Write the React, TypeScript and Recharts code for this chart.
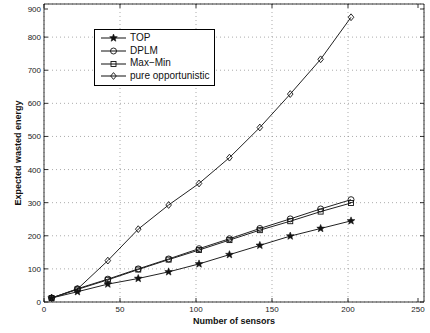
import React from "react";
import {
  LineChart,
  Line,
  XAxis,
  YAxis,
  CartesianGrid,
  ReferenceLine,
  Legend,
} from "recharts";

const sensors = [5, 22, 42, 62, 82, 102, 122, 142, 162, 182, 202];
const topVals = [12, 31, 54, 71, 91, 115, 143, 171, 199, 222, 245];
const dplmVals = [12, 40, 69, 100, 130, 161, 191, 222, 251, 281, 309];
const maxMinVals = [12, 38, 67, 98, 128, 157, 187, 217, 244, 273, 299];
const pureVals = [12, 39, 125, 220, 293, 358, 436, 527, 628, 733, 860];

const xTicks = [0, 50, 100, 150, 200, 250];
const yTicks = [0, 100, 200, 300, 400, 500, 600, 700, 800, 900];

const data = sensors.map((s, i) => ({
  n: s,
  top: topVals[i],
  dplm: dplmVals[i],
  maxMin: maxMinVals[i],
  pure: pureVals[i],
}));

const FONT = "'Liberation Sans', Arial, Helvetica, sans-serif";
const PLOT_TOP = 4;
const PLOT_RIGHT = 424;

const starPath = (cx: number, cy: number, ro: number, ri: number) => {
  let d = "";
  for (let k = 0; k < 10; k++) {
    const r = k % 2 === 0 ? ro : ri;
    const a = -Math.PI / 2 + (k * Math.PI) / 5;
    d += (k === 0 ? "M" : "L") + (cx + r * Math.cos(a)).toFixed(2) + "," + (cy + r * Math.sin(a)).toFixed(2);
  }
  return d + "Z";
};

const Marker = ({ kind, cx, cy }: { kind: string; cx: number; cy: number }) => {
  if (kind === "star")
    return <path d={starPath(cx, cy, 4, 1.7)} fill="#111" stroke="#111" strokeWidth={0.6} />;
  if (kind === "circle")
    return <circle cx={cx} cy={cy} r={3} fill="none" stroke="#111" strokeWidth={0.9} />;
  if (kind === "square")
    return <rect x={cx - 2.5} y={cy - 2.5} width={5} height={5} fill="none" stroke="#111" strokeWidth={0.9} />;
  return (
    <path
      d={`M${cx},${cy - 3.4}L${cx + 2.8},${cy}L${cx},${cy + 3.4}L${cx - 2.8},${cy}Z`}
      fill="none"
      stroke="#111"
      strokeWidth={0.9}
    />
  );
};

const series = [
  { key: "top", name: "TOP", kind: "star" },
  { key: "dplm", name: "DPLM", kind: "circle" },
  { key: "maxMin", name: "Max\u2212Min", kind: "square" },
  { key: "pure", name: "pure opportunistic", kind: "diamond" },
];

const XTick = ({ x, y, payload }: any) => (
  <g>
    <line x1={x} x2={x} y1={y} y2={y - 4} stroke="#000" strokeWidth={0.8} />
    <line x1={x} x2={x} y1={PLOT_TOP} y2={PLOT_TOP + 4} stroke="#000" strokeWidth={0.8} />
    <text x={x} y={y + 10} textAnchor="middle" fontSize={8} fontFamily={FONT} fill="#222">
      {payload.value}
    </text>
  </g>
);

const YTick = ({ x, y, payload }: any) => (
  <g>
    <line x1={x} x2={x + 4} y1={y} y2={y} stroke="#000" strokeWidth={0.8} />
    <line x1={PLOT_RIGHT} x2={PLOT_RIGHT - 4} y1={y} y2={y} stroke="#000" strokeWidth={0.8} />
    <text x={x - 3} y={y + 3} textAnchor="end" fontSize={8} fontFamily={FONT} fill="#222">
      {payload.value}
    </text>
  </g>
);

const LegendBox = () => (
  <div
    style={{
      border: "1px solid #000",
      background: "#fff",
      padding: "2px 4px 2px 5px",
      fontFamily: FONT,
      fontSize: 10,
      color: "#111",
      lineHeight: "12.7px",
    }}
  >
    {series.map((s) => (
      <div key={s.key} style={{ display: "flex", alignItems: "center", whiteSpace: "nowrap" }}>
        <svg width={28} height={12} style={{ marginRight: 2 }}>
          <line x1={1} x2={26} y1={6} y2={6} stroke="#111" strokeWidth={1} />
          <Marker kind={s.kind} cx={13.5} cy={6} />
        </svg>
        <span>{s.name}</span>
      </div>
    ))}
  </div>
);

export default function App() {
  return (
    <div style={{ position: "absolute", left: 0, top: 0, background: "#fff" }}>
      <LineChart
        width={430}
        height={333}
        data={data}
        margin={{ top: PLOT_TOP, right: 6, left: 0, bottom: 0 }}
      >
        <CartesianGrid stroke="#888" strokeDasharray="1 3" strokeWidth={0.7} />
        <XAxis
          dataKey="n"
          type="number"
          domain={[0, 250]}
          ticks={xTicks}
          height={31}
          tickSize={0}
          tickMargin={0}
          tick={<XTick />}
          axisLine={{ stroke: "#000", strokeWidth: 0.8 }}
          tickLine={false}
          label={{
            value: "Number of sensors",
            position: "insideBottom",
            offset: 9,
            fontSize: 9,
            fontWeight: "bold",
            fontFamily: FONT,
            fill: "#111",
          }}
        />
        <YAxis
          type="number"
          domain={[0, 900]}
          ticks={yTicks}
          width={44}
          tickSize={0}
          tickMargin={0}
          tick={<YTick />}
          axisLine={{ stroke: "#000", strokeWidth: 0.8 }}
          tickLine={false}
          label={{
            value: "Expected wasted energy",
            angle: -90,
            position: "insideLeft",
            offset: 18,
            style: { textAnchor: "middle" },
            fontSize: 9,
            fontWeight: "bold",
            fontFamily: FONT,
            fill: "#111",
          }}
        />
        <ReferenceLine x={250} stroke="#000" strokeWidth={0.8} />
        <ReferenceLine y={900} stroke="#000" strokeWidth={0.8} />
        <Legend
          layout="vertical"
          align="center"
          verticalAlign="middle"
          wrapperStyle={{ left: 94, top: 29, width: "auto", height: "auto" }}
          content={() => <LegendBox />}
        />
        {series.map((s) => (
          <Line
            key={s.key}
            dataKey={s.key}
            name={s.name}
            stroke="#222"
            strokeWidth={1}
            isAnimationActive={false}
            dot={(p: any) => <Marker key={p.index} kind={s.kind} cx={p.cx} cy={p.cy} />}
            activeDot={false}
          />
        ))}
      </LineChart>
    </div>
  );
}
